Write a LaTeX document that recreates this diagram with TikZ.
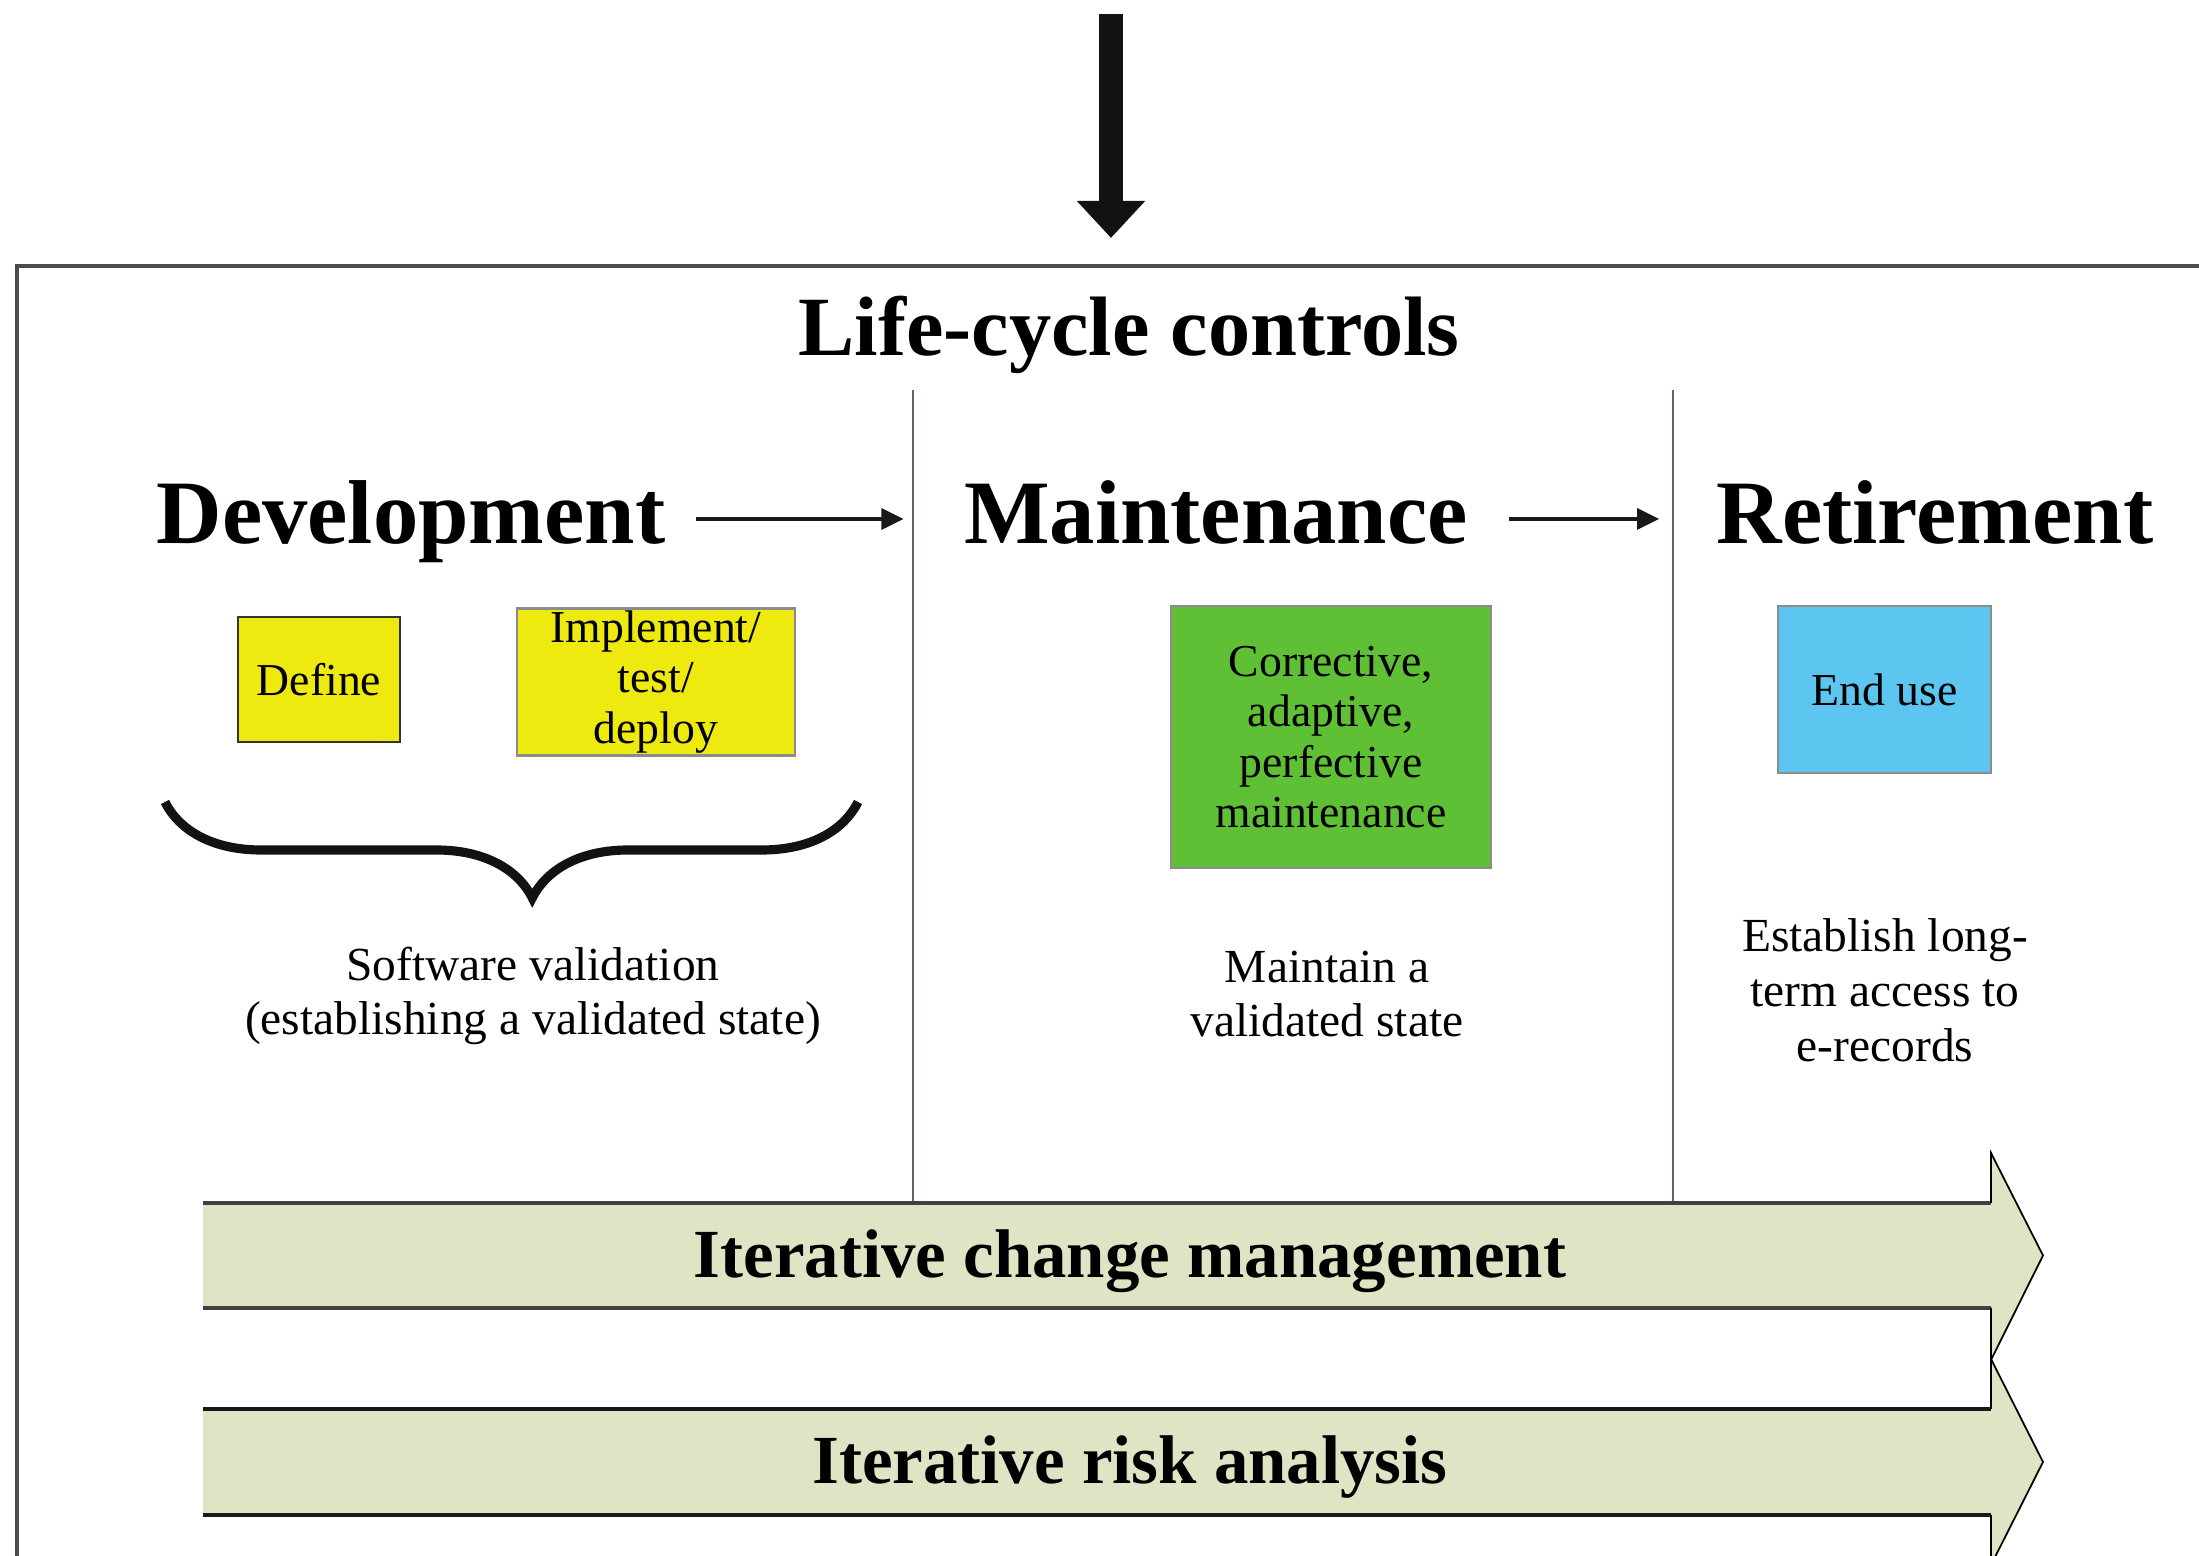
\documentclass[tikz,border=0pt]{standalone}
\usepackage{fontspec}
\setmainfont{Liberation Serif}
\usetikzlibrary{arrows.meta,decorations.pathreplacing}

\definecolor{defyellow}{HTML}{EEEA10}
\definecolor{maingreen}{HTML}{5FBF35}
\definecolor{retblue}{HTML}{5CC6F0}
\definecolor{bandfill}{HTML}{DFE5C4}
\definecolor{divgray}{HTML}{5B6273}

\tikzset{
    heading/.style={font=\fontsize{24}{28}\selectfont\bfseries, anchor=base, inner sep=0pt},
    phase/.style={font=\fontsize{25.8}{30}\selectfont\bfseries, anchor=base, inner sep=0pt},
    task/.style={draw=black!60, line width=0.8pt, align=center, inner sep=0pt,
        font=\fontsize{13}{14.3}\selectfont},
    note/.style={align=center, inner sep=0pt, font=\fontsize{13.5}{15.6}\selectfont},
    flow/.style={-{Triangle[length=2.2mm,width=2.1mm]}, line width=0.9pt, black!90},
    feedarrow/.style={-{Triangle[length=0.37cm,width=0.66cm]}, line width=0.24cm, black!93},
    frame/.style={draw=black!70, line width=0.9pt},
    divider/.style={draw=divgray, line width=0.5pt},
    bandedge/.style={draw=black!75, line width=1.3pt},
    bandhead/.style={draw=black, line width=0.5pt},
    bandtext/.style={font=\fontsize{19.6}{23}\selectfont\bfseries, anchor=base, inner sep=0pt},
}

\begin{document}
\begin{tikzpicture}
    % Frame, dividers and feed arrow:
    \useasboundingbox (0,0) rectangle (21.99,15.56);
    \coordinate (feed) at (11.11,15.42);
    \coordinate (entry) at (11.11,13.18);
    \draw[feedarrow] (feed) -- (entry);
    \draw[frame] (22.5,12.90) -- (0.17,12.90) -- (0.17,-0.5);
    \draw[divider] (9.13,11.66) -- (9.13,3.53);
    \draw[divider] (16.73,11.66) -- (16.73,3.53);
    \node[heading] (lcc) at (11.29,12.00) {Life-cycle controls};

    % Phases and the arrows between them:
    \node[phase] (dev) at (4.11,10.12) {Development};
    \node[phase] (main) at (12.16,10.12) {Maintenance};
    \node[phase] (ret) at (19.35,10.12) {Retirement};
    \draw[flow] ([xshift=3mm,yshift=2.5mm]dev.base east) -- ([xshift=-6mm,yshift=2.5mm]main.base west);
    \draw[flow] ([xshift=4mm,yshift=2.5mm]main.base east) -- ([xshift=-5.7mm,yshift=2.5mm]ret.base west);

    % Activity boxes:
    \node[task, fill=defyellow, draw=black!80, minimum width=1.62cm, minimum height=1.25cm] (define) at (3.19,8.765) {Define};
    \node[task, fill=defyellow, draw=black!45, minimum width=2.78cm, minimum height=1.47cm] (impl) at (6.56,8.74) {Implement/\\test/\\deploy};
    \node[task, fill=maingreen, draw=black!45, minimum width=3.20cm, minimum height=2.62cm] (corr) at (13.31,8.19) {Corrective,\\adaptive,\\perfective\\maintenance};
    \node[task, fill=retblue, draw=black!45, minimum width=2.13cm, minimum height=1.67cm] (enduse) at (18.845,8.665) {End use};

    % Brace over the development steps:
    \coordinate (bl) at (1.65,7.54);
    \coordinate (br) at (8.58,7.54);
    \draw[decorate, decoration={brace, mirror, amplitude=0.96cm, aspect=0.53}, line width=2.6pt, black!93] (bl) -- (br);

    % Notes under each phase:
    \node[note] (valid) at (5.33,5.60) {Software validation\\(establishing a validated state)};
    \node[note] (keep) at (13.27,5.62) {Maintain a\\validated state};
    \node[note] (access) at (18.85,5.66) {Establish long-\\term access to\\e-records};

    % Change management band:
    \fill[bandfill] (2.03,3.53) -- (19.91,3.53) -- (19.91,4.03) -- (20.43,3.005) -- (19.91,1.96) -- (19.91,2.48) -- (2.03,2.48) -- cycle;
    \draw[bandedge] (2.03,3.53) -- (19.91,3.53);
    \draw[bandedge] (2.03,2.48) -- (19.91,2.48);
    \draw[bandhead] (19.91,3.53) -- (19.91,4.03) -- (20.43,3.005) -- (19.91,1.96) -- (19.91,2.48);
    \node[bandtext] (chg) at (11.30,2.78) {Iterative change management};

    % Risk analysis band:
    \fill[bandfill] (2.03,1.47) -- (19.91,1.47) -- (19.91,1.97) -- (20.43,0.94) -- (19.91,-0.09) -- (19.91,0.41) -- (2.03,0.41) -- cycle;
    \draw[bandedge, draw=black!90] (2.03,1.47) -- (19.91,1.47);
    \draw[bandedge, draw=black!90] (2.03,0.41) -- (19.91,0.41);
    \draw[bandhead] (19.91,1.47) -- (19.91,1.97) -- (20.43,0.94) -- (19.91,-0.09) -- (19.91,0.41);
    \node[bandtext] (risk) at (11.30,0.72) {Iterative risk analysis};
\end{tikzpicture}
\end{document}
